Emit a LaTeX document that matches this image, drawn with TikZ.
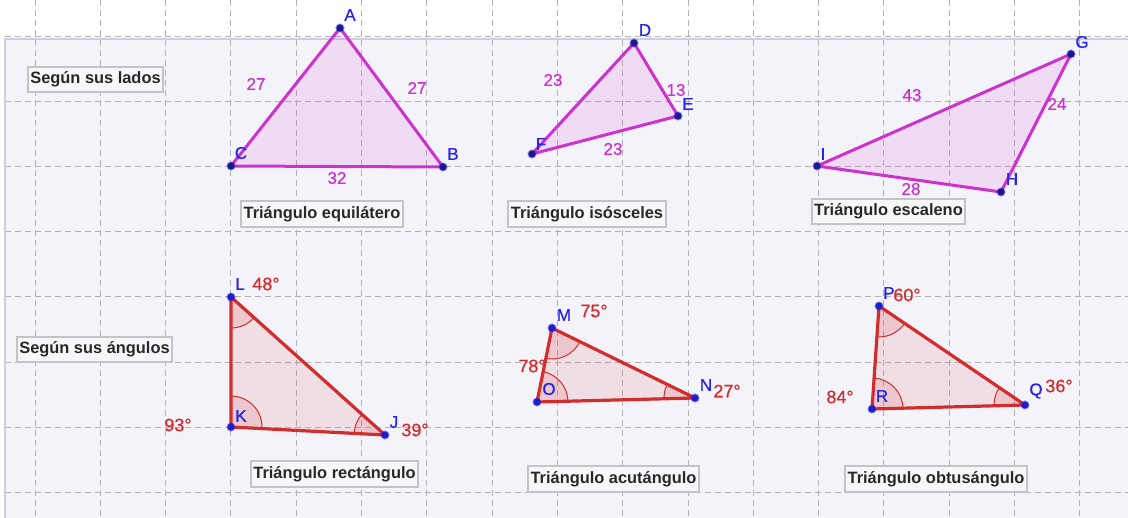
\documentclass[tikz,border=0pt]{standalone}
\usepackage{fontspec}
\setmainfont{Liberation Sans}
\newfontfamily\lblfont{Liberation Sans}[FakeBold=0.6]
\usepackage{xcolor}
\usepackage{tikz}
\usetikzlibrary{angles}

\definecolor{panelbg}{RGB}{244,243,250}
\definecolor{panelrule}{RGB}{204,204,226}
\definecolor{gridgray}{RGB}{178,178,182}
\definecolor{sidecol}{RGB}{204,51,204}
\definecolor{angcol}{RGB}{210,45,45}
\definecolor{ptcol}{RGB}{35,35,235}
\definecolor{ptdark}{RGB}{25,25,130}
\definecolor{boxrule}{RGB}{196,196,196}
\definecolor{boxfill}{RGB}{247,247,250}
\definecolor{boxtext}{RGB}{40,40,40}

\begin{document}
\begin{tikzpicture}[x=1pt, y=-1pt,
  gridline/.style={gridgray, line width=0.9pt, dash pattern=on 6pt off 4pt},
  sidetri/.style={draw=sidecol, line width=3pt, line join=round,
    fill=sidecol, fill opacity=0.12},
  angtri/.style={draw=angcol, line width=3.2pt, line join=round,
    fill=angcol, fill opacity=0.1},
  angmark/.style={draw=angcol, line width=1pt, fill=angcol,
    fill opacity=0.12, angle radius=31pt},
  vtx/.style={circle, inner sep=0pt, minimum size=7.5pt, fill=ptdark,
    draw=ptcol, draw opacity=0.35, line width=1.8pt},
  vtxb/.style={vtx, fill=ptcol!85!black},
  vname/.style={text=ptcol, inner sep=0pt, font=\lblfont\fontsize{17}{17}\selectfont},
  sidelen/.style={text=sidecol, inner sep=0pt, font=\lblfont\fontsize{17}{17}\selectfont},
  angval/.style={text=angcol, inner sep=0pt, font=\lblfont\fontsize{18}{18}\selectfont},
  titlebox/.style={draw=boxrule, line width=1.8pt, fill=boxfill, text=boxtext,
    font=\bfseries\fontsize{16.4}{16.4}\selectfont, text height=12pt,
    text depth=3.5pt, inner xsep=2.5pt, inner ysep=5pt}]

  % ── Background and grid ──────────────────────────────────
  \useasboundingbox (0,0) rectangle (1128,518);
  \fill[white] (0,0) rectangle (1128,518);
  \fill[panelbg] (5,39) rectangle (1128,518);
  \foreach \k in {0,...,16}
    \draw[gridline] ({35+65.3*\k},0) -- ({35+65.3*\k},518);
  \foreach \k in {0,...,7}
    \draw[gridline] (5,{36+65.2*\k}) -- (1128,{36+65.2*\k});
  \draw[panelrule, line width=1.5pt] (5,518) -- (5,39) -- (1128,39);

  % ── Row 1: Según sus lados ───────────────────────────────
  \node[titlebox] (lados) at (95.5,79.5) {Según sus lados};

  % Equilátero
  \coordinate (A) at (340,28);
  \coordinate (B) at (443,167);
  \coordinate (C) at (231,166);
  \draw[sidetri] (A) -- (B) -- (C) -- cycle;
  \node[sidelen] (ca) at (256,84) {27};
  \node[sidelen] (ab) at (417,88) {27};
  \node[sidelen] (cb) at (337,178) {32};
  \node[vtx] (dotA) at (A) {};
  \node[vtx] (dotB) at (B) {};
  \node[vtx] (dotC) at (C) {};
  \node[vname] (labA) at (350,15) {A};
  \node[vname] (labB) at (453,154) {B};
  \node[vname] (labC) at (241,153) {C};
  \node[titlebox] (equi) at (322,214) {Triángulo equilátero};

  % Isósceles
  \coordinate (D) at (634,43);
  \coordinate (E) at (678,116);
  \coordinate (F) at (532,154);
  \draw[sidetri] (D) -- (E) -- (F) -- cycle;
  \node[sidelen] (fd) at (553,80) {23};
  \node[sidelen] (de) at (676,90) {13};
  \node[sidelen] (fe) at (613,149) {23};
  \node[vtx] (dotD) at (D) {};
  \node[vtx] (dotE) at (E) {};
  \node[vtx] (dotF) at (F) {};
  \node[vname] (labD) at (645,30) {D};
  \node[vname] (labE) at (688,104) {E};
  \node[vname] (labF) at (541,144) {F};
  \node[titlebox] (isos) at (587,214) {Triángulo isósceles};

  % Escaleno
  \coordinate (G) at (1071,54);
  \coordinate (H) at (1001,192);
  \coordinate (I) at (817,166);
  \draw[sidetri] (G) -- (H) -- (I) -- cycle;
  \node[sidelen] (ig) at (912,95) {43};
  \node[sidelen] (gh) at (1057,104) {24};
  \node[sidelen] (ih) at (911,189) {28};
  \node[vtx] (dotG) at (G) {};
  \node[vtx] (dotH) at (H) {};
  \node[vtx] (dotI) at (I) {};
  \node[vname] (labG) at (1082,42) {G};
  \node[vname] (labH) at (1012,179) {H};
  \node[vname] (labI) at (823,154) {I};
  \node[titlebox] (esca) at (888.5,211.5) {Triángulo escaleno};

  % ── Row 2: Según sus ángulos ─────────────────────────────
  \node[titlebox] (angulos) at (94.5,349.5) {Según sus ángulos};

  % Rectángulo
  \coordinate (L) at (231,297);
  \coordinate (K) at (231,427);
  \coordinate (J) at (385,435);
  \draw[angtri] (L) -- (K) -- (J) -- cycle;
  \pic[angmark] {angle=J--K--L};
  \pic[angmark] {angle=K--L--J};
  \pic[angmark] {angle=L--J--K};
  \node[vtxb] (dotL) at (L) {};
  \node[vtxb] (dotK) at (K) {};
  \node[vtxb] (dotJ) at (J) {};
  \node[vname] (labL) at (240,284) {L};
  \node[vname] (labK) at (241,416) {K};
  \node[vname] (labJ) at (394,422) {J};
  \node[angval] (angL) at (266,284) {48°};
  \node[angval] (angK) at (178,425) {93°};
  \node[angval] (angJ) at (415,430) {39°};
  \node[titlebox] (rect) at (334.5,474) {Triángulo rectángulo};

  % Acutángulo
  \coordinate (M) at (552,328);
  \coordinate (O) at (537,402);
  \coordinate (N) at (695,398);
  \draw[angtri] (M) -- (O) -- (N) -- cycle;
  \pic[angmark] {angle=N--O--M};
  \pic[angmark] {angle=M--N--O};
  \pic[angmark] {angle=O--M--N};
  \node[vtxb] (dotM) at (M) {};
  \node[vtxb] (dotO) at (O) {};
  \node[vtxb] (dotN) at (N) {};
  \node[vname] (labM) at (564,315) {M};
  \node[vname] (labO) at (549,389) {O};
  \node[vname] (labN) at (706,385) {N};
  \node[angval] (angM) at (594,311) {75°};
  \node[angval] (angO) at (532,366) {78°};
  \node[angval] (angN) at (727,391) {27°};
  \node[titlebox] (acut) at (613.5,479) {Triángulo acutángulo};

  % Obtusángulo
  \coordinate (P) at (879,306);
  \coordinate (R) at (872,409);
  \coordinate (Q) at (1025,405);
  \draw[angtri] (P) -- (R) -- (Q) -- cycle;
  \pic[angmark] {angle=Q--R--P};
  \pic[angmark] {angle=P--Q--R};
  \pic[angmark] {angle=R--P--Q};
  \node[vtxb] (dotP) at (P) {};
  \node[vtxb] (dotR) at (R) {};
  \node[vtxb] (dotQ) at (Q) {};
  \node[vname] (labP) at (889,293) {P};
  \node[vname] (labR) at (882,396) {R};
  \node[vname] (labQ) at (1036,391) {Q};
  \node[angval] (angP) at (907,295) {60°};
  \node[angval] (angR) at (840,397) {84°};
  \node[angval] (angQ) at (1059,386) {36°};
  \node[titlebox] (obtu) at (936,479) {Triángulo obtusángulo};
\end{tikzpicture}
\end{document}
